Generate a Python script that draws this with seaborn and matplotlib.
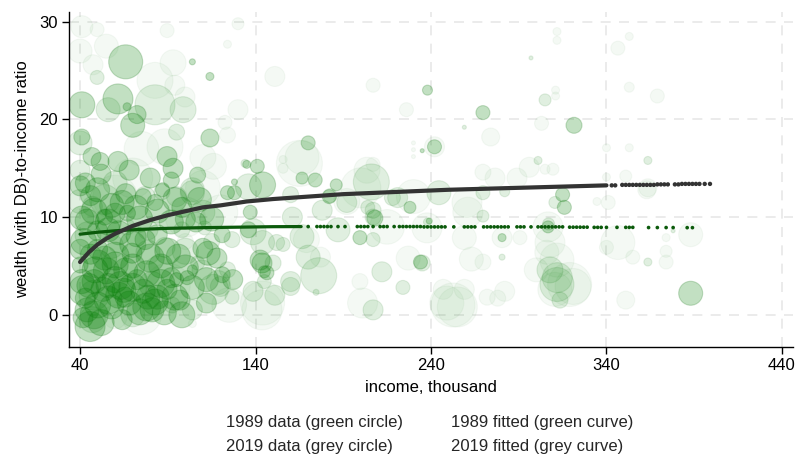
import numpy as np
import pandas as pd
import seaborn as sns
import matplotlib
matplotlib.use('Agg')
import matplotlib.pyplot as plt

# bubbles: income (thousand), wealth-to-income ratio, cell weight (px^2 of radius)
# darker shade
dark_inc = [66, 104, 114, 41, 61.6, 66.8, 72.5, 70, 114, 41,
            46.8, 51.4, 61.6, 89.6, 93, 107, 170, 141, 166.5, 174,
            144, 128, 76, 87, 182, 208, 186, 135, 238, 235,
            242, 137, 143.7, 145, 199.5, 269.6, 315, 316, 306.7, 280.5,
            388, 234, 228, 239, 321.5, 41.7, 45.7, 81, 82.7, 97,
            53, 43, 65.6, 41, 60, 72.5, 89.6, 95, 101, 104,
            121, 113, 69.6, 60, 48.5, 40, 40, 50, 56, 41,
            54, 60, 67, 50, 43, 82.7, 92, 124, 128, 77,
            121, 78.7, 127, 142.6, 146.5, 136, 45, 55, 65, 50,
            70,
            44, 52, 58, 64, 68, 74, 88, 92, 86, 78,
            66, 54, 46, 44, 50, 62, 72, 84, 92, 100,
            58, 66, 72, 46, 40, 52, 68, 80, 98, 106,
            110, 96, 104, 112, 118, 62, 56, 76, 84, 48,
            42, 48, 56, 63, 70, 78, 86, 94, 100, 90,
            80, 70, 60, 50, 42, 48, 56, 64, 74, 84,
            94, 108, 115, 112, 98]
dark_ratio = [25.9, 25.9, 24.4, 21.5, 22.1, 21.3, 20.5, 19.4, 18.1, 18.2,
              16.2, 15.7, 15.7, 16.2, 15.0, 14.3, 17.6, 15.2, 14.0, 13.8,
              13.3, 12.5, 12.1, 12.8, 12.1, 9.9, 13.3, 15.4, 23.0, 16.8,
              17.2, 10.5, 5.3, 4.4, 7.9, 20.7, 12.3, 11.0, 9.0, 7.9,
              2.2, 5.4, 11.0, 9.6, 19.4, -0.3, -1.2, 0.5, 1.3, 1.5,
              2.6, 1.7, 1.8, 3.4, 3.6, 3.6, 2.6, 3.6, 3.8, 4.6,
              4.1, 6.3, 6.3, 5.1, 4.6, 5.1, 6.7, 6.7, 8.7, 9.9,
              10.0, 10.4, 10.4, 12.8, 13.5, 11.5, 13.8, 12.5, 13.6, 7.7,
              8.2, 1.8, 3.6, 5.6, 4.3, 8.7, 3.0, 4.5, 2.5, 1.0,
              5.0,
              0.5, -0.8, 0.8, -0.5, 1.2, 0.3, 0.2, 3.8, 5.0, 4.2,
              4.6, 5.8, 6.2, 9.6, 8.6, 8.4, 8.0, 8.2, 9.5, 9.8,
              11.2, 12.4, 11.0, 12.2, 13.2, 14.4, 14.8, 14.0, 11.0, 9.5,
              6.8, 6.0, 2.8, 1.2, 5.8, 2.0, 3.0, 2.4, 1.8, 3.4,
              2.5, 0.0, 1.5, 3.0, 2.8, 0.8, 3.2, 1.8, 4.8, 6.5,
              5.8, 7.2, 6.0, 5.2, 7.5, 10.6, 9.5, 11.5, 9.8, 10.6,
              11.8, 11.8, 9.8, 3.6, 0.0]
dark_wgt = [289, 9, 16, 169, 225, 16, 81, 144, 81, 64,
            81, 81, 100, 100, 100, 64, 49, 49, 36, 49,
            169, 49, 64, 49, 49, 64, 36, 16, 25, 4,
            49, 49, 100, 36, 49, 49, 49, 49, 36, 16,
            144, 49, 36, 9, 64, 100, 225, 144, 169, 100,
            144, 100, 100, 144, 169, 100, 100, 49, 49, 25,
            64, 144, 100, 169, 169, 64, 100, 100, 144, 144,
            64, 100, 64, 144, 100, 64, 64, 49, 9, 100,
            64, 144, 100, 100, 49, 64, 144, 169, 144, 169,
            144,
            144, 169, 144, 100, 144, 169, 144, 100, 144, 169,
            144, 144, 100, 144, 100, 144, 100, 100, 144, 100,
            144, 100, 144, 100, 100, 100, 100, 100, 100, 100,
            100, 144, 144, 100, 100, 169, 144, 144, 144, 144,
            225, 196, 196, 196, 196, 196, 196, 169, 169, 169,
            196, 169, 196, 196, 169, 169, 169, 144, 169, 144,
            144, 144, 144, 144, 169]

# middle shade
mid_inc = [49.7, 82.7, 56, 98.7, 40, 95, 40, 134, 206, 218,
           104, 161, 178, 192, 204, 136, 160, 182.5, 207, 207,
           244.5, 221, 238, 138.6, 144, 155.7, 166.5, 150, 145, 138.6,
           151, 160, 170, 176, 174.5, 187, 207, 212, 207, 224,
           235, 305, 259, 301, 269.6, 282, 310.6, 269.6, 280.5, 307.8,
           312, 313.5, 363.6, 363.6, 378, 297, 307, 311.8, 47, 92.4,
           81, 109.5, 118.6, 124, 107, 115, 126.6, 88.4, 78.7, 61.6,
           44.5, 66.8, 47, 40, 54, 60, 77, 86.7, 95, 104,
           78.7, 98, 111, 104, 126.6, 116, 120, 152, 160, 58,
           85, 100, 48, 70, 110]
mid_ratio = [24.3, 21.5, 21, 21, 17.6, 18.7, 14.8, 15.5, 13.6, 12,
             12.5, 10, 10.7, 11.5, 11, 13.1, 12.3, 12.2, 10.7, 10,
             12.5, 12, 9.5, 8.5, 7.4, 7.2, 8, 5.3, 3.4, 2.4,
             2, 2.9, 5.9, 4, 2.3, 8.7, 7.7, 4.4, 0.5, 2.8,
             5.3, 22, 19.2, 15.8, 12.5, 12.6, 11.5, 10.1, 5.9, 4.6,
             3.8, 1.5, 15.8, 5.4, 8.6, 26.3, 9.3, 3.1, -0.5, 1.0,
             3.1, 4.6, 3.3, 4.6, 5.3, 7.5, 7.7, 6.9, 6.4, 7.4,
             8.2, 9, 11.1, 11.6, 11.8, 13.5, 12.1, 12.6, 12.1, 12.8,
             8.7, 8.7, 8.9, 0.5, 1.8, 2.6, 2.9, 7.4, 3.4, 7,
             4.5, 6.5, 2.0, 0, 10.5]
mid_wgt = [49, 400, 144, 169, 144, 64, 100, 16, 324, 64,
           144, 100, 100, 100, 49, 169, 64, 49, 64, 64,
           144, 100, 16, 169, 144, 49, 144, 64, 49, 100,
           100, 81, 144, 324, 9, 144, 49, 100, 100, 49,
           64, 36, 4, 16, 49, 25, 36, 36, 9, 169,
           225, 64, 16, 16, 4, 4, 36, 289, 169, 64,
           169, 100, 144, 64, 49, 64, 64, 100, 144, 100,
           169, 64, 100, 144, 225, 144, 100, 64, 100, 144,
           100, 64, 49, 100, 49, 225, 100, 64, 100, 144,
           225, 169, 225, 144, 144]

# light shade
light_inc = [41, 49.7, 89.6, 130, 124, 47.4, 82.7, 93, 99.8, 94,
             122.6, 124, 88.4, 110, 151, 207, 116, 155.7, 155.7, 165,
             203.5, 166.5, 207, 226, 230, 230, 230, 242, 192, 237.7,
             143.7, 199.5, 201, 227, 249, 311, 311, 274, 303, 353,
             296, 309.5, 305, 269.6, 276.5, 289, 261, 340, 353, 351,
             340, 341, 334.6, 306.7, 280.5, 259, 290.7, 263, 269.6, 306,
             311.8, 321, 310.6, 252.5, 259, 247, 272, 278, 282, 346.5,
             340, 355, 351, 369, 363.6, 374, 374, 374, 388, 60,
             104, 144, 177, 169, 255, 300, 319, 307.8, 230, 260.5,
             311.8, 311.8, 346.5, 353, 363, 100, 70, 100, 60, 110,
             90, 120, 75, 125, 40, 55, 75, 130, 200, 215]
light_ratio = [29.5, 29.2, 29.1, 29.8, 27.7, 25.6, 24, 25.8, 22.3, 23.5,
               19.7, 18.4, 17.2, 16.1, 24.4, 23.5, 15.2, 15, 15.9, 15.5,
               14.8, 16.1, 15.4, 21, 17.6, 16.9, 16.2, 17.2, 11.6, 8.9,
               0.5, 3.4, 1.2, 5.8, 1.2, 23, 22.4, 18.2, 19.6, 23.3,
               15.1, 14.9, 14.9, 14.6, 14, 14, 10.5, 17.1, 17.1, 14.2,
               14.1, 11.5, 11.6, 9, 7.9, 7.9, 7.9, 5.7, 5.4, 6.4,
               5.6, 2.9, 2.6, 1, 2.6, 2.6, 1.8, 1.7, 2.4, 7.4,
               6.9, 5.9, 1.5, 22.4, 13, 7.9, 6.5, 5.4, 8.2, -0.2,
               -0.9, 1.2, 5.9, 7.7, 0.8, 4.6, 3.1, 7.4, 12.1, 11.5,
               29, 28.1, 27.3, 28.5, 12.8, 7.5, 14, 10, 12, 13,
               3, 10.5, 0, 1, 27, 27.5, 17, 21, 13, 9]
light_wgt = [121, 49, 49, 36, 16, 100, 324, 169, 100, 100,
             49, 64, 324, 169, 100, 49, 169, 25, 16, 529,
             169, 289, 49, 49, 4, 4, 4, 100, 169, 225,
             400, 64, 225, 144, 289, 16, 16, 81, 49, 25,
             100, 36, 25, 64, 100, 100, 225, 16, 16, 36,
             16, 49, 16, 225, 100, 144, 49, 144, 64, 144,
             289, 324, 289, 484, 100, 100, 64, 64, 100, 289,
             49, 49, 81, 49, 81, 16, 36, 49, 144, 144,
             16, 484, 100, 169, 400, 144, 484, 225, 289, 225,
             16, 16, 49, 16, 81, 64, 400, 400, 500, 300,
             500, 300, 400, 300, 144, 144, 300, 100, 400, 300]

# fitted curves
fit19_inc = [40, 45, 50, 55, 60, 65, 70, 80, 90, 100, 110, 120, 135, 150,
             170, 190, 210, 230, 250, 270, 290, 310, 330, 340]
fit19_val = [5.4, 6.4, 7.2, 7.8, 8.3, 8.7, 9.1, 9.7, 10.2, 10.6, 11.0, 11.2,
             11.6, 11.85, 12.1, 12.35, 12.5, 12.65, 12.8, 12.9, 13.0, 13.1, 13.2, 13.25]
tail19_inc = [343, 345, 349, 351, 353, 355, 357, 359, 361, 363, 365, 367,
              369, 371, 373, 375, 379, 381, 383, 385, 387, 389, 391, 393, 396, 399]
tail19_val = [13.25, 13.25, 13.3, 13.3, 13.3, 13.3, 13.3, 13.3, 13.3, 13.3, 13.3, 13.3,
              13.35, 13.35, 13.35, 13.35, 13.35, 13.35, 13.4, 13.4, 13.4, 13.4, 13.4, 13.4, 13.4, 13.4]
fit89_inc = [40, 50, 60, 75, 90, 110, 130, 150, 166]
fit89_val = [8.25, 8.45, 8.6, 8.75, 8.85, 8.92, 8.97, 9.02, 9.03]
tail89_inc = [170, 175, 177, 179, 181, 183, 187, 191, 198, 200, 202, 204,
              207, 211, 213, 215, 219, 222, 224, 226, 228, 230, 232, 234,
              236, 238, 240, 242, 244, 246, 248, 253, 259, 261, 263, 265,
              270, 272, 274, 276, 278, 280, 282, 284, 289, 291, 293, 297,
              301, 303, 305, 307, 309, 311, 313, 315, 319, 321, 323, 325,
              327, 329, 333, 335, 337, 340, 346, 351, 353, 355, 364, 369,
              374, 378, 386, 389]
tail89_val = [9.03, 9.03, 9.03, 9.03, 9.03, 9.03, 9.03, 9.03, 9.03, 9.03, 9.03, 9.03,
              9.03, 9.03, 9.03, 9.03, 9.03, 9.03, 9.03, 9.03, 9.03, 9.03, 9.03, 9.03,
              9.0, 9.0, 9.0, 9.0, 9.0, 9.0, 9.0, 9.0, 9.0, 9.0, 9.0, 9.0,
              9.0, 9.0, 9.0, 9.0, 9.0, 9.0, 9.0, 9.0, 9.0, 9.0, 9.0, 9.0,
              9.0, 9.0, 9.0, 9.0, 9.0, 9.0, 9.0, 9.0, 8.97, 8.97, 8.97, 8.97,
              8.97, 8.97, 8.95, 8.95, 8.95, 8.95, 8.95, 8.95, 8.95, 8.95, 8.93, 8.93,
              8.93, 8.93, 8.92, 8.92]

legend_left = ['1989 data (green circle)', '2019 data (grey circle)']
legend_right = ['1989 fitted (green curve)', '2019 fitted (grey curve)']

sns.set_theme(style='white')
plt.rcParams['font.family'] = ['Liberation Sans', 'DejaVu Sans']

fig = plt.figure(figsize=(7.96, 4.57), dpi=100)
ax = fig.add_axes([0.0867, 0.2407, 0.9095, 0.733])

# radius in px -> marker area in pt^2
size_kw = dict(size_norm=(0, 1000), sizes=(0, 2074), legend=False)
for inc, rat, w, a in [(light_inc, light_ratio, light_wgt, 0.045),
                       (mid_inc, mid_ratio, mid_wgt, 0.12),
                       (dark_inc, dark_ratio, dark_wgt, 0.24)]:
    df = pd.DataFrame({'inc': inc, 'ratio': rat, 'w': w})
    sns.scatterplot(data=df, x='inc', y='ratio', size='w', color='green',
                    alpha=a, edgecolor='#1f7a1f', linewidth=0.8, ax=ax, zorder=2,
                    **size_kw)

sns.lineplot(x=fit89_inc, y=fit89_val, color='#0b5a0b', linewidth=2.3, ax=ax, zorder=3)
sns.scatterplot(x=tail89_inc, y=tail89_val, color='#0b5a0b', s=7, edgecolor='none', ax=ax, zorder=3)
sns.lineplot(x=fit19_inc, y=fit19_val, color='#333333', linewidth=3.0, ax=ax, zorder=4)
sns.scatterplot(x=tail19_inc, y=tail19_val, color='#333333', s=10, edgecolor='none', ax=ax, zorder=4)

ax.set_xlim(33.7, 446.3)
ax.set_ylim(-3.3, 31.0)
ax.set_xticks([40, 140, 240, 340, 440])
ax.set_yticks([0, 10, 20, 30])
ax.grid(True, linestyle=(0, (6, 5)), color='#e8e8e8', linewidth=1.2)
ax.set_axisbelow(True)
for s in ['top', 'right']:
    ax.spines[s].set_visible(False)
for s in ['left', 'bottom']:
    ax.spines[s].set_color('black')
    ax.spines[s].set_linewidth(1.0)
ax.tick_params(axis='both', which='major', direction='out', length=5, width=1,
               color='black', labelsize=12, labelcolor='black', pad=3, left=True, bottom=True)
ax.set_xlabel('income, thousand', fontsize=12, color='black', labelpad=5)
ax.set_ylabel('wealth (with DB)-to-income ratio', fontsize=12, color='black', labelpad=7)

for i in range(2):
    fig.text(226 / 796, 1 - (423 + 24 * i) / 457, legend_left[i], fontsize=12, va='center', ha='left')
    fig.text(451 / 796, 1 - (423 + 24 * i) / 457, legend_right[i], fontsize=12, va='center', ha='left')

fig.savefig('out.png', dpi=100)
